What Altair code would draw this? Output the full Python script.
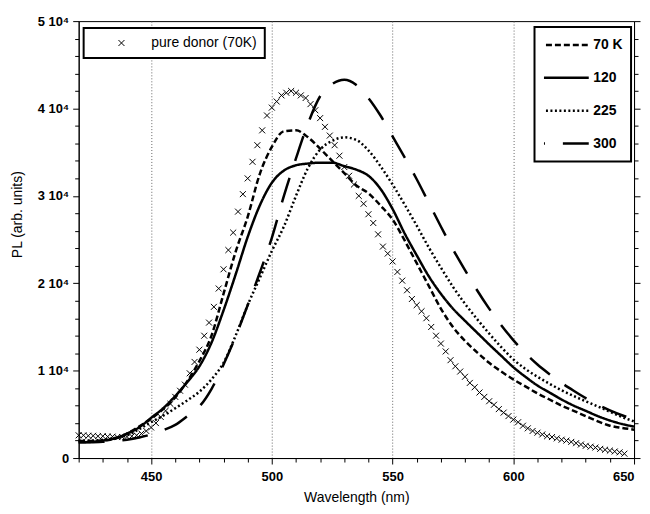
import altair as alt
import pandas as pd

# ---- data ----
wl_line = list(range(420, 651, 5))
series_names = ["70 K", "120", "225", "300"]

t70 = [1950, 1950, 2000, 2200, 2800, 3600, 4500, 5600, 6950, 8800,
       11100, 14000, 18800, 23600, 27600, 32500, 35600, 37400, 37500, 36700,
       35400, 34000, 32600, 31200, 30300, 28900, 27300, 24900, 22300, 19700,
       17100, 15000, 13400, 12100, 10900, 9900, 9000, 8200, 7400, 6700,
       6000, 5400, 4800, 4200, 3700, 3450, 3250]
t120 = [1800, 1850, 2000, 2250, 2800, 3500, 4600, 5700, 7100, 8700,
        10500, 13200, 16900, 21000, 25300, 28900, 31500, 32900, 33500, 33700,
        33800, 33800, 33400, 33000, 32300, 30800, 28500, 25700, 23200, 20800,
        18800, 17100, 15700, 14350, 13000, 11700, 10400, 9300, 8300, 7500,
        6700, 6000, 5400, 4800, 4300, 3900, 3600]
t225 = [2000, 2000, 2100, 2300, 2600, 3300, 4100, 4850, 5700, 6600,
        7600, 9000, 10900, 14000, 17500, 20600, 23700, 26500, 30000, 33200,
        35300, 36300, 36700, 36400, 35200, 33400, 31300, 29000, 26600, 24100,
        21800, 19600, 17650, 15900, 14250, 12700, 11300, 10200, 9300, 8500,
        7750, 7100, 6500, 5900, 5300, 4700, 4200]
t300 = [1800, 1800, 1850, 1950, 2100, 2350, 2700, 3200, 3800, 4800,
        5900, 7900, 10700, 13900, 17500, 21200, 25200, 30000, 34300, 38300,
        41400, 42800, 43300, 42700, 41200, 39200, 36800, 34400, 31900, 29200,
        26500, 23900, 21500, 19200, 17100, 15200, 13500, 12000, 10700, 9600,
        8600, 7700, 6850, 6100, 5450, 4900, 4450]

wl_donor = list(range(420, 647, 2))
donor = [2600, 2600, 2550, 2550, 2500, 2500, 2450, 2450, 2400, 2400,
         2450, 2500, 2600, 2800, 3100, 3500, 4000, 4700, 5400, 6200,
         7000, 7700, 8400, 9700, 11000, 12400, 14000, 15500, 17300, 19400,
         21600, 23800, 25800, 28200, 30200, 32000, 33900, 35800, 37500, 39200,
         40100, 40800, 41500, 41800, 42000, 41800, 41500, 41200, 40500, 39800,
         38900, 37900, 36900, 35800, 34600, 33300, 32300, 31300, 30000, 29100,
         27900, 26900, 25600, 24200, 23400, 22500, 21300, 20300, 19200, 18200,
         17500, 16800, 16000, 15000, 14000, 13100, 12200, 11200, 10500, 9900,
         9300, 8600, 8100, 7500, 7000, 6500, 6100, 5600, 5200, 4800,
         4400, 4100, 3700, 3400, 3100, 2900, 2700, 2500, 2400, 2250,
         2100, 2000, 1850, 1700, 1550, 1400, 1300, 1200, 1050, 950,
         850, 750, 650, 500]
donor_name = "pure donor (70K)"

x_ticks = list(range(420, 651, 10))
y_ticks = list(range(0, 50001, 2000))

# ---- tables ----
lines_df = pd.DataFrame({
    "wl": wl_line * 4,
    "pl": t70 + t120 + t225 + t300,
    "series": sum([[s] * len(wl_line) for s in series_names], []),
})
donor_df = pd.DataFrame({"wl": wl_donor, "pl": donor, "series": [donor_name] * len(wl_donor)})

FONT = "Liberation Sans"
x_scale = alt.Scale(domain=[420, 650], nice=False, zero=False)
y_scale = alt.Scale(domain=[0, 50000], nice=False)

x_axis = alt.Axis(
    values=x_ticks, title="Wavelength (nm)",
    labelExpr="datum.value % 50 === 0 ? datum.value : ''",
    labelOverlap=False,
    tickSize={"condition": {"test": "datum.value % 50 === 0", "value": 6}, "value": 4},
    grid=True, gridDash=[1, 2], gridColor="#666666", gridWidth=1,
    gridOpacity={"condition": {"test": "datum.value % 50 === 0 && datum.value > 420 && datum.value < 650", "value": 1}, "value": 0},
    labelPadding=7, titlePadding=7,
)
y_axis_left = alt.Axis(
    values=y_ticks, title="PL (arb. units)",
    labelExpr="datum.value === 0 ? '0' : (datum.value % 10000 === 0 ? (datum.value / 10000) + ' 10⁴' : '')",
    labelOverlap=False,
    tickSize={"condition": {"test": "datum.value % 10000 === 0", "value": 6}, "value": 4},
    grid=False, titleX=-54, titleY=194, labelPadding=4,
)
y_axis_right = alt.Axis(
    values=y_ticks, title=None, orient="right", labels=False,
    tickSize={"condition": {"test": "datum.value % 10000 === 0", "value": 6}, "value": 4},
    grid=False,
)

lines = alt.Chart(lines_df).mark_line(
    color="black", strokeWidth=2.5, interpolate="monotone", strokeCap="butt"
).encode(
    x=alt.X("wl:Q", scale=x_scale, axis=x_axis),
    y=alt.Y("pl:Q", scale=y_scale, axis=y_axis_left),
    strokeDash=alt.StrokeDash(
        "series:N",
        scale=alt.Scale(domain=series_names, range=[[6, 3], [1, 0], [2, 2.5], [26, 18]]),
        sort=series_names,
        legend=alt.Legend(
            orient="none", legendX=458, legendY=6, title=None,
            symbolType="stroke", symbolSize=2025, symbolStrokeWidth=2.5,
            symbolStrokeColor="black", symbolDashOffset=25,
            labelFontSize=14, labelFontWeight="bold", labelFont=FONT,
            labelOffset=3, padding=8, rowPadding=13, clipHeight=20,
        ),
    ),
    detail="series:N",
)

points = alt.Chart(donor_df).mark_point(
    filled=False, color="black", strokeWidth=1, size=36, opacity=1
).encode(
    x=alt.X("wl:Q", scale=x_scale, axis=x_axis),
    y=alt.Y("pl:Q", scale=y_scale, axis=y_axis_right),
    shape=alt.Shape(
        "series:N",
        scale=alt.Scale(domain=[donor_name], range=["M-1,-1L1,1M-1,1L1,-1"]),
        legend=alt.Legend(
            orient="none", legendX=5, legendY=7, title=None,
            symbolSize=36, symbolStrokeWidth=1, symbolStrokeColor="black",
            symbolFillColor="transparent", symbolOffset=23,
            labelFontSize=14, labelFont=FONT, labelOffset=23, padding=8,
        ),
    ),
)

chart = alt.layer(lines, points).resolve_axis(y="independent").properties(
    width=558, height=439,
    autosize=alt.AutoSizeParams(type="none"),
    padding={"left": 71, "top": 12, "right": 8, "bottom": 46},
).configure_view(
    stroke="black", strokeWidth=1
).configure_axis(
    domainColor="black", tickColor="black", domainWidth=1, tickWidth=1,
    labelFont=FONT, labelFontSize=13, labelFontWeight="bold", labelColor="black",
    titleFont=FONT, titleFontSize=14, titleFontWeight="normal", titleColor="black",
).configure_legend(
    strokeColor="black", fillColor="white", strokeWidth=2,
)

chart.save("out.html", embed_options={"renderer": "svg", "actions": False})
